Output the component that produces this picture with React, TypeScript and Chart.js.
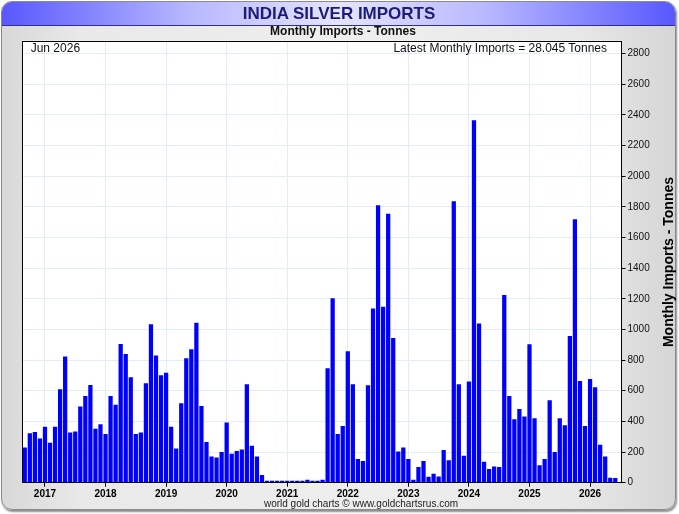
import { useEffect, useRef } from 'react';
import { Chart, registerables } from 'chart.js';

Chart.register(...registerables);

// Monthly India silver imports, tonnes (Sep 2016 – Jun 2026)
const imports2016 = [228, 321, 328, 287]; // Sep–Dec
const imports2017 = [363, 258, 363, 608, 821, 326, 332, 495, 564, 636, 350, 380];
const imports2018 = [315, 564, 506, 903, 838, 686, 315, 326, 647, 1031, 827, 699];
const imports2019 = [716, 363, 221, 517, 810, 868, 1042, 499, 263, 169, 163, 198];
const imports2020 = [391, 187, 204, 215, 640, 239, 169, 48, 11, 11, 11, 11];
const imports2021 = [11, 11, 11, 11, 17, 11, 11, 17, 745, 1201, 315, 367];
const imports2022 = [855, 640, 152, 139, 634, 1135, 1808, 1146, 1752, 942, 202, 228];
const imports2023 = [152, 17, 100, 139, 37, 56, 39, 211, 145, 1835, 640, 174];
const imports2024 = [658, 2362, 1036, 135, 87, 104, 100, 1222, 564, 412, 478, 430];
const imports2025 = [901, 419, 111, 152, 536, 198, 419, 373, 955, 1717, 662, 367];
const imports2026 = [675, 621, 245, 169, 30, 28.045]; // Jan–Jun

const yearLabels = ['2017', '2018', '2019', '2020', '2021', '2022', '2023', '2024', '2025', '2026'];
const yTicks = [0, 200, 400, 600, 800, 1000, 1200, 1400, 1600, 1800, 2000, 2200, 2400, 2600, 2800];

const yearSeries = [
  imports2016, imports2017, imports2018, imports2019, imports2020, imports2021,
  imports2022, imports2023, imports2024, imports2025, imports2026,
];
const allImports: number[] = yearSeries.flat();

// index of the January bar of each labelled year
const yearStartIdx: number[] = [];
{
  let acc = 0;
  yearSeries.forEach((arr, i) => {
    if (i > 0) yearStartIdx.push(acc);
    acc += arr.length;
  });
}

const FONT = "'Liberation Sans', Arial, Helvetica, sans-serif";

export default function App() {
  const ref = useRef<HTMLCanvasElement>(null);

  useEffect(() => {
    const canvas = ref.current;
    if (!canvas) return;

    const plotFrame = {
      id: 'plotFrame',
      beforeDraw(chart: any) {
        const { ctx, chartArea: a } = chart;
        ctx.save();
        ctx.fillStyle = '#ffffff';
        ctx.fillRect(a.left, a.top, a.right - a.left, a.bottom - a.top);
        ctx.restore();
      },
      afterDraw(chart: any) {
        const { ctx, chartArea: a } = chart;
        ctx.save();
        ctx.strokeStyle = '#000000';
        ctx.lineWidth = 1;
        const l = Math.round(a.left) + 0.5;
        const t = Math.round(a.top) + 0.5;
        const r = Math.round(a.right) - 0.5;
        const b = Math.round(a.bottom) - 0.5;
        ctx.strokeRect(l, t, r - l, b - t);
        ctx.restore();
      },
    };

    const chart = new Chart(canvas, {
      type: 'bar',
      data: {
        datasets: [
          {
            data: allImports.map((v, i) => ({ x: i, y: v })),
            backgroundColor: '#0000ff',
            borderWidth: 0,
            barThickness: 3.6,
          },
        ],
      },
      options: {
        responsive: false,
        animation: false,
        layout: { padding: { left: 22, top: 40.7, right: 0, bottom: 0 } },
        plugins: {
          legend: { display: false },
          tooltip: { enabled: false },
          title: { display: false },
        },
        scales: {
          x: {
            type: 'linear',
            min: -0.55,
            max: allImports.length - 1 + 1.23,
            offset: false,
            afterBuildTicks: (axis: any) => {
              axis.ticks = yearStartIdx.map((v) => ({ value: v }));
            },
            afterFit: (axis: any) => {
              axis.height = 31.3;
            },
            ticks: {
              autoSkip: false,
              maxRotation: 0,
              minRotation: 0,
              padding: 2,
              color: '#000000',
              font: { family: FONT, size: 10, weight: 'bold' },
              callback: (_v: any, index: number) => yearLabels[index] ?? '',
            },
            grid: {
              offset: false,
              color: '#e3edf7',
              tickColor: '#000000',
              tickLength: 4,
              lineWidth: 1,
            },
            border: { display: false },
          },
          y: {
            position: 'right',
            min: 0,
            max: 2884,
            afterBuildTicks: (axis: any) => {
              axis.ticks = yTicks.map((v) => ({ value: v }));
            },
            afterFit: (axis: any) => {
              axis.width = 57.5;
            },
            ticks: {
              padding: 2,
              color: '#111111',
              font: { family: FONT, size: 10 },
              callback: (v: any) => String(v),
            },
            grid: {
              color: '#e3edf7',
              tickColor: '#000000',
              tickLength: 4,
              lineWidth: 1,
            },
            border: { display: false },
          },
        },
      } as any,
      plugins: [plotFrame],
    });

    return () => chart.destroy();
  }, []);

  const abs = { position: 'absolute' as const, whiteSpace: 'nowrap' as const };

  return (
    <div
      style={{
        position: 'absolute',
        left: 0,
        top: 0,
        width: 679,
        height: 514,
        background: '#ffffff',
        fontFamily: FONT,
        overflow: 'hidden',
      }}
    >
      <div
        style={{
          position: 'absolute',
          left: 1,
          top: 1,
          width: 673,
          height: 507,
          border: '1.5px solid #8a8a8a',
          borderRadius: 11,
          background:
            'linear-gradient(to right, #d8d8d8 0%, #e9e9e9 12%, #eeeeee 55%, #e8e8e8 85%, #d6d6d6 100%)',
          boxShadow: '1px 2px 2px rgba(0,0,0,0.45)',
          overflow: 'hidden',
        }}
      >
        <div
          style={{
            position: 'absolute',
            left: 0,
            top: 0,
            right: 0,
            height: 23,
            background:
              'linear-gradient(to right, #5858ff 0%, #b8b8ff 28%, #e4e4ff 50%, #b8b8ff 72%, #5858ff 100%)',
            borderBottom: '1px solid #30308c',
          }}
        />
      </div>

      <canvas
        ref={ref}
        width={679}
        height={514}
        style={{ position: 'absolute', left: 0, top: 0, width: 679, height: 514 }}
      />

      <div
        style={{
          ...abs,
          left: 339,
          top: 4.9,
          transform: 'translateX(-50%)',
          fontSize: 17,
          lineHeight: '17px',
          fontWeight: 'bold',
          color: '#1c1c78',
        }}
      >
        INDIA SILVER IMPORTS
      </div>

      <div
        style={{
          ...abs,
          left: 343,
          top: 25,
          transform: 'translateX(-50%)',
          fontSize: 12,
          lineHeight: '12px',
          fontWeight: 'bold',
          color: '#111111',
        }}
      >
        Monthly Imports - Tonnes
      </div>

      <div style={{ ...abs, left: 30.7, top: 42, fontSize: 12, lineHeight: '12px', color: '#111111' }}>
        Jun 2026
      </div>

      <div style={{ ...abs, right: 72, top: 42, fontSize: 12, lineHeight: '12px', color: '#111111' }}>
        Latest Monthly Imports = 28.045 Tonnes
      </div>

      <div
        style={{
          ...abs,
          left: 668 - 110,
          top: 261.7 - 7,
          width: 220,
          textAlign: 'center',
          transform: 'rotate(-90deg)',
          transformOrigin: '50% 50%',
          fontSize: 14,
          lineHeight: '14px',
          fontWeight: 'bold',
          color: '#000000',
        }}
      >
        Monthly Imports - Tonnes
      </div>

      <div
        style={{
          ...abs,
          left: 361,
          top: 498.8,
          transform: 'translateX(-50%)',
          fontSize: 10,
          lineHeight: '10px',
          color: '#222222',
        }}
      >
        world gold charts © www.goldchartsrus.com
      </div>
    </div>
  );
}
